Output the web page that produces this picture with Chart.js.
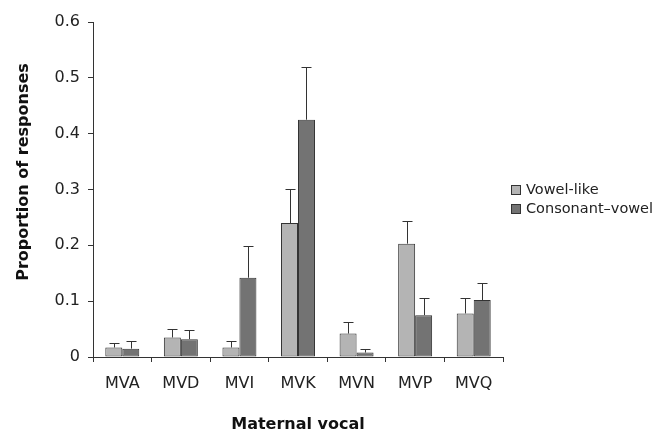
<!DOCTYPE html>
<html>
<head>
<meta charset="utf-8">
<script src="https://cdn.jsdelivr.net/npm/chart.js@4/dist/chart.umd.min.js"></script>
<style>
  html, body { margin: 0; padding: 0; background: #fff; }
  #wrap { width: 655px; height: 433px; }
</style>
</head>
<body>
<div id="wrap"><canvas id="chart" width="655" height="433"></canvas></div>
<script>
const categories = ['MVA', 'MVD', 'MVI', 'MVK', 'MVN', 'MVP', 'MVQ'];
const vowelLike = [0.017, 0.035, 0.017, 0.240, 0.042, 0.203, 0.078];
const vowelErr = [0.008, 0.016, 0.011, 0.061, 0.021, 0.041, 0.028];
const consVowel = [0.015, 0.032, 0.142, 0.425, 0.008, 0.075, 0.102];
const consErr = [0.014, 0.016, 0.057, 0.095, 0.006, 0.031, 0.031];
const yTickLabels = ['0', '0.1', '0.2', '0.3', '0.4', '0.5', '0.6'];
const yTitle = 'Proportion of responses';

const FONT = 'DejaVu Sans, Verdana, sans-serif';
const INK = '#333333';

// upward-only error bars with a small cap
const errorBars = {
  id: 'errorBars',
  afterDatasetsDraw(chart) {
    const { ctx, scales } = chart;
    ctx.save();
    ctx.strokeStyle = INK;
    ctx.lineWidth = 1;
    chart.data.datasets.forEach((ds, di) => {
      const meta = chart.getDatasetMeta(di);
      meta.data.forEach((bar, i) => {
        const x = Math.round(bar.x) + 0.5;
        const yTop = Math.round(scales.y.getPixelForValue(ds.data[i] + ds.errors[i])) + 0.5;
        ctx.beginPath();
        ctx.moveTo(x, bar.y);
        ctx.lineTo(x, yTop);
        ctx.moveTo(x - 5, yTop);
        ctx.lineTo(x + 5, yTop);
        ctx.stroke();
      });
    });
    ctx.restore();
  },
};

// legend at the right and the y title, placed like the original
const sideText = {
  id: 'sideText',
  afterDraw(chart) {
    const { ctx } = chart;
    ctx.save();
    ctx.font = '14.5px ' + FONT;
    ctx.textBaseline = 'middle';
    chart.data.datasets.forEach((ds, i) => {
      const y = 190 + i * 19;
      ctx.fillStyle = ds.backgroundColor;
      ctx.fillRect(511.5, y - 4.5, 9, 9);
      ctx.strokeStyle = INK;
      ctx.lineWidth = 1;
      ctx.strokeRect(511.5, y - 4.5, 9, 9);
      ctx.fillStyle = '#222';
      ctx.fillText(ds.label, 526, y);
    });

    ctx.translate(24, 172);
    ctx.rotate(-Math.PI / 2);
    ctx.font = 'bold 16px ' + FONT;
    ctx.textAlign = 'center';
    ctx.fillStyle = '#111';
    ctx.fillText(yTitle, 0, 0);
    ctx.restore();
  },
};

new Chart(document.getElementById('chart'), {
  type: 'bar',
  data: {
    labels: categories,
    datasets: [
      {
        label: 'Vowel-like',
        data: vowelLike,
        errors: vowelErr,
        backgroundColor: '#b4b4b4',
        borderColor: INK,
        borderWidth: 1,
        borderSkipped: false,
      },
      {
        label: 'Consonant\u2013vowel',
        data: consVowel,
        errors: consErr,
        backgroundColor: '#737373',
        borderColor: INK,
        borderWidth: 1,
        borderSkipped: false,
      },
    ],
  },
  options: {
    responsive: false,
    animation: false,
    devicePixelRatio: 1,
    categoryPercentage: 0.58,
    barPercentage: 1.0,
    layout: { padding: { top: 22, right: 152, left: 0, bottom: 0 } },
    plugins: {
      legend: { display: false },
      tooltip: { enabled: false },
    },
    scales: {
      x: {
        afterFit: (s) => { s.height = 76; },
        grid: { display: true, drawOnChartArea: false, tickLength: 5, color: INK, offset: true },
        border: { display: true, color: INK },
        ticks: { color: '#222', font: { family: FONT, size: 16 }, padding: 12, maxRotation: 0 },
        title: {
          display: true,
          text: 'Maternal vocal',
          color: '#111',
          font: { family: FONT, size: 16, weight: 'bold', lineHeight: 1 },
          padding: { top: 0, bottom: 0 },
        },
      },
      y: {
        min: 0,
        max: 0.6,
        afterFit: (s) => { s.width = 93; },
        grid: { display: true, drawOnChartArea: false, tickLength: 5, color: INK },
        border: { display: true, color: INK },
        ticks: {
          stepSize: 0.1,
          color: '#222',
          font: { family: FONT, size: 16 },
          padding: 8,
          callback: (v, i) => yTickLabels[i],
        },
      },
    },
  },
  plugins: [errorBars, sideText],
});
</script>
</body>
</html>
